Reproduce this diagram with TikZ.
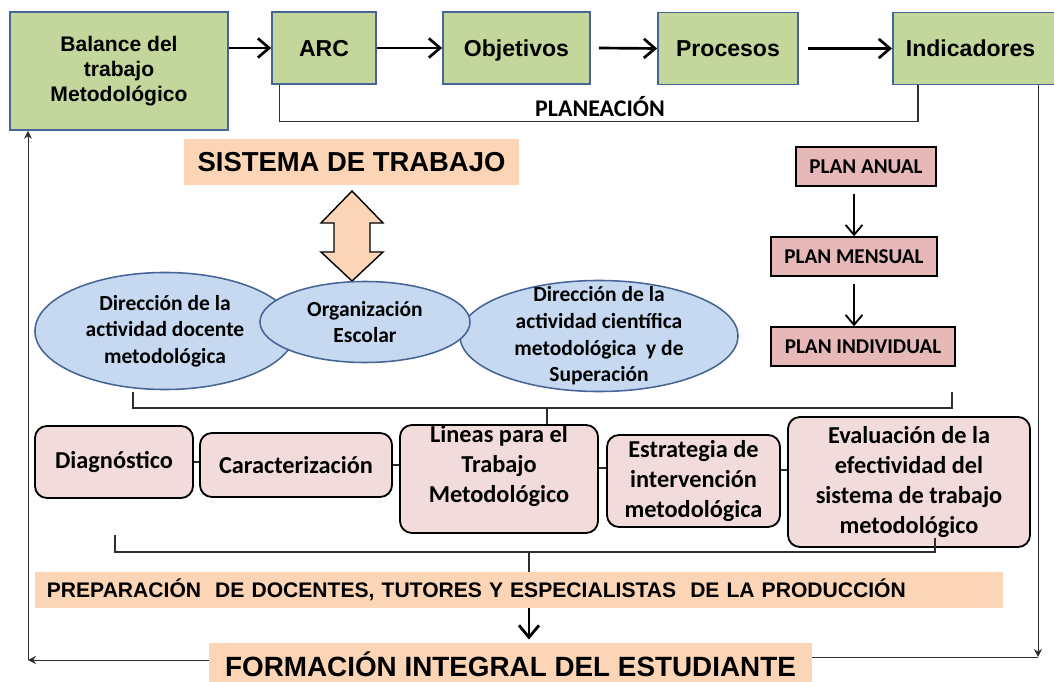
\documentclass[tikz,border=0pt]{standalone}
\usepackage{fontspec}
\setmainfont{Liberation Sans}
\newfontfamily\calib{Carlito}
\usetikzlibrary{calc,shapes.geometric,arrows.meta}

\definecolor{verde}{RGB}{195,214,155}
\definecolor{azulborde}{RGB}{70,100,150}
\definecolor{durazno}{RGB}{251,213,181}
\definecolor{celeste}{RGB}{198,217,241}
\definecolor{rosa}{RGB}{230,185,184}
\definecolor{rosaclaro}{RGB}{242,220,219}
\definecolor{gris}{RGB}{45,45,45}

\tikzset{
	caja/.style={draw=azulborde, line width=1.2pt, fill=verde, align=center, font=\bfseries\fontsize{16.4}{19}\selectfont},
	caja1/.style={caja, minimum height=1.8cm, text height=12pt, text depth=0.3pt},
	franja/.style={fill=durazno, inner sep=0pt},
	elipse/.style={ellipse, draw=azulborde, line width=1.1pt, fill=celeste, align=center, inner sep=0pt, font=\calib\bfseries\fontsize{15.3}{19}\selectfont},
	etexto/.style={align=center, inner sep=0pt, font=\calib\bfseries\fontsize{15.3}{19}\selectfont},
	plan/.style={draw, line width=1pt, fill=rosa, minimum height=0.975cm, font=\calib\bfseries\fontsize{15}{18}\selectfont},
	etapa/.style={draw, line width=1.3pt, fill=rosaclaro, rounded corners=0.3cm, align=center, inner sep=0pt, font=\calib\bfseries\fontsize{17.3}{21.3}\selectfont},
	etexto2/.style={align=center, inner sep=0pt, font=\calib\bfseries\fontsize{17.3}{21.3}\selectfont},
	conector/.style={draw=gris, line width=0.9pt},
	flecha/.style={line width=1.9pt, -{Straight Barb[length=2.8mm,width=4.8mm]}},
	flechaplan/.style={line width=1.3pt, -{Straight Barb[length=2.5mm,width=4.2mm]}},
	flechagrande/.style={line width=2pt, -{Straight Barb[length=3mm,width=5mm]}},
	retorno/.style={draw=gris, line width=0.7pt, -{Stealth[length=2mm,width=2mm]}}
}

\begin{document}
\begin{tikzpicture}[x=0.025cm, y=-0.025cm]
		%%%%% START %%%%%
		\useasboundingbox (0,0) rectangle (1054,682);
		
		% planeacion
		\node[caja, minimum width=5.45cm, minimum height=2.95cm, font=\bfseries\fontsize{15}{17.7}\selectfont] (bal) at (119,71) {Balance del\\trabajo\\Metodológico};
		\node[caja1, minimum width=2.6cm] (arc) at (324,48) {ARC};
		\node[caja1, minimum width=3.675cm] (obj) at (516.5,48) {Objetivos};
		\node[caja1, minimum width=3.5cm] (pro) at (728,48.5) {Procesos};
		\node[caja1, anchor=west, minimum width=4.4cm, text width=3.75cm, inner xsep=0.325cm, align=left] (ind) at (892,48.5) {Indicadores};
		
		\draw[flecha] (bal.east |- arc.west) -- (arc.west);
		\draw[flecha] (arc) -- (obj);
		\draw[flecha] (obj.east) ++(8,0) -- (pro.west);
		\draw[flecha] (pro.east) ++(9,0) -- (ind.west);
		
		\draw[conector] ([xshift=0.2cm]arc.south west) -- ++(0,37) -| ([xshift=0.65cm]ind.south west);
		\node[font=\calib\bfseries\fontsize{17}{20}\selectfont] (planea) at (600,107) {PLANEACIÓN};
		
		% sistema de trabajo
		\node[franja, minimum width=8.375cm, minimum height=1.15cm, font=\bfseries\fontsize{19.5}{23}\selectfont] (sis) at (351.5,162) {SISTEMA DE TRABAJO};
		
		\coordinate (dbl) at (352,236);
		\draw[line width=1pt, fill=durazno] ($(dbl)+(0,-45)$) -- ++(31,32) -- ++(-13,0) -- ++(0,29) -- ++(13,0) -- ($(dbl)+(0,45)$) -- ++(-31,-29) -- ++(13,0) -- ++(0,-29) -- ++(-13,0) -- cycle;
		
		\node[elipse, minimum width=6.5cm, minimum height=2.925cm] (doc) at (165,331) {Dirección de la\\actividad docente\\metodológica};
		\node[elipse, minimum width=6.95cm, minimum height=2.775cm, label={[etexto]center:Dirección de la\\actividad científica\\metodológica~ y de\\Superación}] (cien) at (599,336) {};
		\node[elipse, minimum width=5.25cm, minimum height=2.025cm] (org) at (365,322) {Organización\\Escolar};
		
		% planes
		\node[plan, minimum width=3.5cm] (anual) at (866,166.5) {PLAN ANUAL};
		\node[plan, minimum width=4.15cm] (mensual) at (854,256.5) {PLAN MENSUAL};
		\node[plan, minimum width=4.6cm] (indiv) at (863,346.5) {PLAN INDIVIDUAL};
		\draw[flechaplan, shorten <=0.17cm] (anual.south -| mensual) -- (mensual.north);
		\draw[flechaplan, shorten <=0.17cm] (mensual.south) -- (indiv.north -| mensual);
		
		\coordinate (l1) at (133,392);
		\coordinate (m1) at (547,408);
		\coordinate (r1) at (952,392);
		
		% etapas
		\node[etapa, minimum width=3.95cm, minimum height=1.8cm] (diag) at (114,462) {Diagnóstico};
		\node[etapa, minimum width=4.8cm, minimum height=1.6cm] (carac) at (296,465) {Caracterización};
		\node[etapa, minimum width=4.95cm, minimum height=2.7cm, label={[etexto2, yshift=0.325cm]center:Lineas para el\\Trabajo\\Metodológico}] (lin) at (499,479) {};
		\node[etapa, minimum width=4.325cm, minimum height=2.3cm] (estr) at (693.5,481) {Estrategia de\\intervención\\metodológica};
		\node[etapa, minimum width=6.05cm, minimum height=3.25cm] (eval) at (909,482) {Evaluación de la\\efectividad del\\sistema de trabajo\\metodológico};
		
		\draw[conector, line width=1.3pt] (diag.east) -- (carac.west |- diag.east);
		\draw[conector, line width=1.3pt] (carac.east) -- (lin.west |- carac.east);
		\draw[conector, line width=1.3pt] (lin.east |- 0,468) -- (estr.west |- 0,468);
		\draw[conector, line width=1.3pt] (estr.east |- 0,470) -- (eval.west |- 0,470);
		
		\draw[conector] (l1) |- (m1) -| (r1);
		\draw[conector] (m1) -- (m1 |- lin.north);
		
		\coordinate (l2) at (115,535);
		\coordinate (m2) at (529,552);
		\coordinate (r2) at (935,538);
		\draw[conector] (l2) |- (m2) -| (r2);
		
		% preparacion y formacion
		\node[franja, minimum width=24.2cm, minimum height=0.9cm, text width=23.6cm, inner xsep=0.3cm, align=left, font=\bfseries\fontsize{15}{18}\selectfont] (prep) at (519,590) {PREPARACIÓN~ DE DOCENTES, TUTORES Y ESPECIALISTAS~ DE LA PRODUCCIÓN};
		\draw[conector] (m2) -- (m2 |- prep.north);
		
		\node[franja, minimum width=15.075cm, minimum height=0.975cm, text height=20.6pt, text depth=0pt, font=\bfseries\fontsize{19.8}{23}\selectfont] (form) at (510.5,662.5) {FORMACIÓN INTEGRAL DEL ESTUDIANTE};
		\draw[flechagrande] (prep.south -| m2) -- ([yshift=0.08cm]form.north -| m2);
		
		% retorno
		\coordinate (rc) at (1038,657);
		\coordinate (lc) at (28,660);
		\draw[retorno] (rc |- ind.south) -- (rc);
		\draw[conector, line width=0.7pt] (form.east |- rc) -- (rc);
		\draw[retorno] (form.west |- lc) -- (lc);
		\draw[retorno] (lc) -- (lc |- bal.south);
		
		%%%%% END %%%%%
\end{tikzpicture}
\end{document}
